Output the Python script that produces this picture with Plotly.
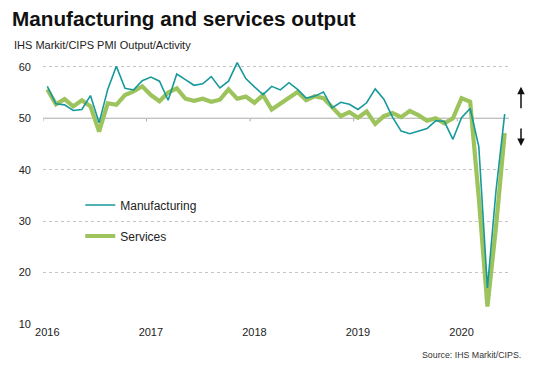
import plotly.graph_objects as go

# Monthly categories Jan 2016 - Jun 2020
months = [f"{y}-{m:02d}" for y in range(2016, 2021) for m in range(1, 13)][:54]

manufacturing = [
    56.2, 52.8, 52.6, 51.5, 51.7, 54.4, 49.1, 55.6, 60.1, 55.8, 55.5, 57.3,
    58.0, 57.2, 53.5, 58.6, 57.5, 56.4, 56.7, 58.1, 55.9, 57.2, 60.8, 57.7,
    56.1, 54.6, 56.2, 55.5, 56.9, 55.6, 53.9, 54.3, 55.1, 52.0, 53.1, 52.7,
    51.7, 53.0, 55.7, 53.7, 50.2, 47.5, 47.0, 47.5, 48.0, 49.5, 49.4, 45.9,
    50.1, 51.9, 44.5, 17.0, 36.0, 50.8,
]

services = [
    55.6, 52.7, 53.7, 52.3, 53.5, 52.3, 47.4, 52.9, 52.6, 54.5, 55.2, 56.2,
    54.5, 53.3, 55.0, 55.8, 53.8, 53.4, 53.8, 53.2, 53.6, 55.6, 53.8, 54.2,
    53.0, 54.5, 51.7, 52.8, 54.0, 55.1, 53.5, 54.3, 53.9, 52.2, 50.4, 51.2,
    50.1, 51.3, 48.9, 50.4, 51.0, 50.2, 51.4, 50.6, 49.5, 50.0, 49.0, 50.0,
    53.9, 53.2, 34.5, 13.4, 29.0, 47.1,
]

year_labels = ["2016", "2017", "2018", "2019", "2020"]
y_ticks = [10, 20, 30, 40, 50, 60]

x = list(range(len(months)))
jan_idx = [i for i, m in enumerate(months) if m.endswith("-01")]
boundaries = [i - 0.5 for i in jan_idx]

FONT = "Liberation Sans, Arial, sans-serif"

fig = go.Figure()
fig.add_trace(go.Scatter(
    x=x, y=services, name="Services", mode="lines", legendgroup="s", legendrank=2,
    line=dict(color="#9cc35c", width=4.2),
))
fig.add_trace(go.Scatter(
    x=x, y=manufacturing, name="Manufacturing", mode="lines", legendgroup="m", legendrank=1,
    line=dict(color="#17989a", width=1.6),
))

shapes = [dict(type="line", xref="paper", x0=0, x1=1, yref="y", y0=50, y1=50,
               line=dict(color="#a8a8a8", width=1), layer="below")]
for b in boundaries:
    shapes.append(dict(type="line", xref="x", x0=b, x1=b, yref="y", y0=50, y1=49.4,
                       line=dict(color="#a8a8a8", width=1), layer="below"))

fig.update_layout(
    width=553, height=375,
    margin=dict(l=43, r=44, t=57, b=51),
    paper_bgcolor="white", plot_bgcolor="white",
    font=dict(family=FONT, color="#222222", size=11),
    title=dict(text="<b>Manufacturing and services output</b>",
               x=12/553, xanchor="left", y=1-19/375, yanchor="middle",
               font=dict(size=20.7, color="#111111", family=FONT)),
    xaxis=dict(range=[-0.5, 53.5], tickvals=jan_idx, ticktext=year_labels,
               showgrid=False, zeroline=False, showline=False, ticks="",
               tickfont=dict(size=11, color="#222222")),
    yaxis=dict(range=[10, 61.9], tickvals=y_ticks, showgrid=True,
               gridcolor="#c4c4c4", griddash="dot", gridwidth=1,
               zeroline=False, showline=False, ticks="",
               tickfont=dict(size=11, color="#222222"), ticklabelstandoff=11),
    legend=dict(x=0.08, y=0.50, xanchor="left", yanchor="top",
                traceorder="grouped", bgcolor="rgba(0,0,0,0)",
                font=dict(size=12, color="#222222"), tracegroupgap=12),
    shapes=shapes,
    annotations=[
        dict(text="IHS Markit/CIPS PMI Output/Activity", xref="paper", yref="paper",
             x=-31/466, y=1+(57-45)/267, xanchor="left", yanchor="middle",
             showarrow=False, font=dict(size=11, color="#222222")),
        dict(text="Source: IHS Markit/CIPS.", xref="paper", yref="paper",
             x=1+(523-509)/466, y=-(355-324)/267, xanchor="right", yanchor="middle",
             showarrow=False, font=dict(size=8.8, color="#333333")),
        dict(text="", xref="paper", yref="y", x=1+(521-509)/466, y=56.1,
             ax=0, ay=23, showarrow=True, arrowhead=2, arrowsize=1,
             arrowwidth=1.5, arrowcolor="#111111"),
        dict(text="", xref="paper", yref="y", x=1+(521-509)/466, y=44.6,
             ax=0, ay=-19, showarrow=True, arrowhead=2, arrowsize=1,
             arrowwidth=1.5, arrowcolor="#111111"),
    ],
)

fig.write_html("out.html", config={"displayModeBar": False},
               post_script="document.body.style.margin='0';")
